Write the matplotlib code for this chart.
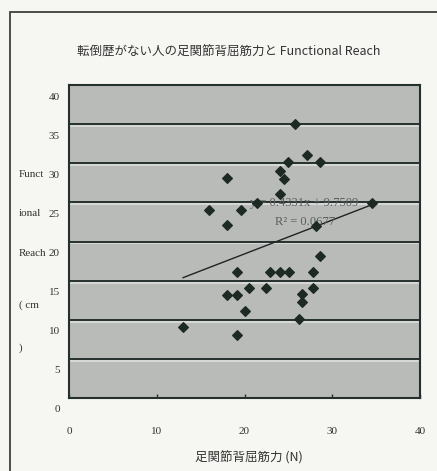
import matplotlib.pyplot as plt
from matplotlib.transforms import ScaledTranslation
from matplotlib.patches import Rectangle
import numpy as np

# Data
strength = [25.7, 27.1, 25.0, 28.6, 24.0, 24.5, 18.0, 24.0, 21.4, 34.5,
            16.0, 19.6, 18.0, 28.1, 28.6, 19.1, 22.9, 24.0, 25.1, 27.8,
            20.5, 22.5, 27.8, 18.0, 19.1, 26.5, 26.5, 20.1, 26.2, 13.0,
            19.2]
reach = [35.0, 31.1, 30.2, 30.1, 29.0, 28.0, 28.1, 26.1, 24.9, 24.9,
         24.0, 24.0, 22.1, 22.0, 18.1, 16.1, 16.1, 16.1, 16.1, 16.1,
         14.1, 14.1, 14.0, 13.1, 13.1, 13.3, 12.3, 11.1, 10.1, 9.1,
         8.1]
slope, intercept = 0.4331, 9.7509
eq_text = 'y = 0.4331x + 9.7509'
r2_text = 'R² = 0.0677'
title = '転倒歴がない人の足関節背屈筋力と Functional Reach'
xlabel = '足関節背屈筋力 (N)'
ylabel_parts = ['Funct', 'ional', 'Reach', '( cm', ')']
xticks = [0, 10, 20, 30, 40]
yticks = [0, 5, 10, 15, 20, 25, 30, 35, 40]

W, H = 437, 471
fig = plt.figure(figsize=(W / 100, H / 100), dpi=100)
fig.patch.set_facecolor('#f6f6f3')

# outer chart frame (left and top edges visible)
fig.add_artist(Rectangle((10 / W, -0.05), 1.2, (H - 12) / H + 0.05,
                         transform=fig.transFigure, fill=False,
                         edgecolor='#3c403e', lw=1.3))

ax = fig.add_axes([69 / W, 1 - 398 / H, (420 - 69) / W, (398 - 85) / H])
ax.set_facecolor('#b9bbb9')
ax.set_xlim(0, 40)
ax.set_ylim(0, 40)

# gridlines with the light scan streak under each one
for yv in yticks[1:-1]:
    ax.axhline(yv - 0.25, color='#dcdedc', lw=1.2, zorder=1)
    ax.axhline(yv, color='#263230', lw=1.4, zorder=2)

ax.scatter(strength, reach, marker='D', s=24, color='#1d2a24',
           edgecolors='#1d2a24', zorder=4)

xs = np.array([min(strength), max(strength)])
ax.plot(xs, slope * xs + intercept, color='#1f2422', lw=1.0, zorder=3)

serif = ['Liberation Serif', 'DejaVu Serif']
ax.text(20.6, 24.5, eq_text, fontsize=9, color='#5a5e5c', family=serif, zorder=3)
ax.text(23.5, 22.1, r2_text, fontsize=9, color='#5a5e5c', family=serif, zorder=3)

for s in ax.spines.values():
    s.set_color('#23302c')
    s.set_linewidth(1.5)

ax.set_xticks(xticks)
ax.set_yticks(yticks)
ax.tick_params(axis='y', length=0, pad=6.5, labelsize=8, labelcolor='#333333')
ax.tick_params(axis='x', direction='in', length=3, width=1, color='#23302c',
               pad=21, labelsize=8, labelcolor='#333333')
for lab in ax.get_xticklabels() + ax.get_yticklabels():
    lab.set_family(serif)
off = ScaledTranslation(0, -11 / 100, fig.dpi_scale_trans)
for lab in ax.get_yticklabels():
    lab.set_transform(lab.get_transform() + off)

cjk = ['Noto Sans CJK JP', 'DejaVu Sans']
fig.text(229 / W, 1 - 52 / H, title, ha='center', va='center',
         fontsize=9, family=cjk, color='#333333')
fig.text(249 / W, 1 - 458 / H, xlabel, ha='center', va='center',
         fontsize=9, family=cjk, color='#333333')

ylab_y = [175, 213, 253, 305, 348]
for txt, yp in zip(ylabel_parts, ylab_y):
    fig.text(19 / W, 1 - yp / H, txt, ha='left', va='center',
             fontsize=8, family=serif, color='#333333')

fig.savefig('out.png', dpi=100, facecolor=fig.get_facecolor())
